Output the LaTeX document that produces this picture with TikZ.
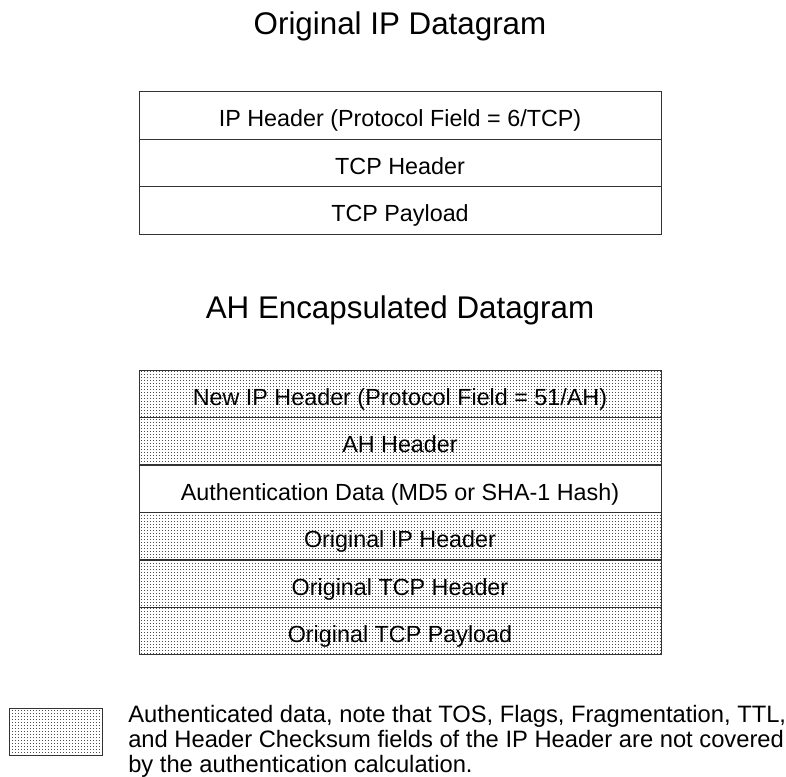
\documentclass[tikz,border=0pt]{standalone}
\usepackage{fontspec}
\setmainfont{Liberation Sans}
\usetikzlibrary{patterns.meta}
\tikzdeclarepattern{name=smalldots, type=uncolored,
  bounding box={(0,0) and (2.25pt,2.25pt)}, tile size={(2.25pt,2.25pt)},
  code={\fill (0,0) rectangle (0.75pt,0.75pt);}}
\tikzset{
  row/.style={draw=black!80, line width=0.75pt, minimum width=391.5pt, minimum height=35.6pt,
    inner sep=0pt, text height=17.25pt, text depth=0pt, font=\fontsize{17.5}{20}\selectfont},
  auth/.style={row, pattern=smalldots, pattern color=black!70},
  title/.style={anchor=base, inner sep=0pt, font=\fontsize{23.5}{27}\selectfont},
}
\begin{document}
\begin{tikzpicture}[x=0.75pt, y=-0.75pt]
\useasboundingbox (0,0) rectangle (786,777);
\node[title] (t1) at (400,35) {Original IP Datagram};
\node[row] (a1) at (400,115.5) {IP Header (Protocol Field = 6/TCP)};
\node[row] (a2) at (400,163) {TCP Header};
\node[row] (a3) at (400,210.5) {TCP Payload};

\node[title] (t2) at (400,319) {AH Encapsulated Datagram};
\node[auth] (b1) at (400,393.75) {New IP Header (Protocol Field = 51/AH)};
\node[auth] (b2) at (400,441.25) {AH Header};
\node[row]  (b3) at (400,488.75) {Authentication Data (MD5 or SHA-1 Hash)};
\node[auth] (b4) at (400,536.25) {Original IP Header};
\node[auth] (b5) at (400,583.75) {Original TCP Header};
\node[auth] (b6) at (400,631.25) {Original TCP Payload};

\node[auth, minimum width=69.75pt, minimum height=35pt, text height=0pt] (leg) at (55.5,732.3) {};
\node[anchor=north west, inner sep=0pt, align=left, font=\fontsize{17.8}{18.4}\selectfont] (legtext) at (128,705.5)
 {Authenticated data, note that TOS, Flags, Fragmentation, TTL,\\
  and Header Checksum fields of the IP Header are not covered\\
  by the authentication calculation.};
\end{tikzpicture}
\end{document}
